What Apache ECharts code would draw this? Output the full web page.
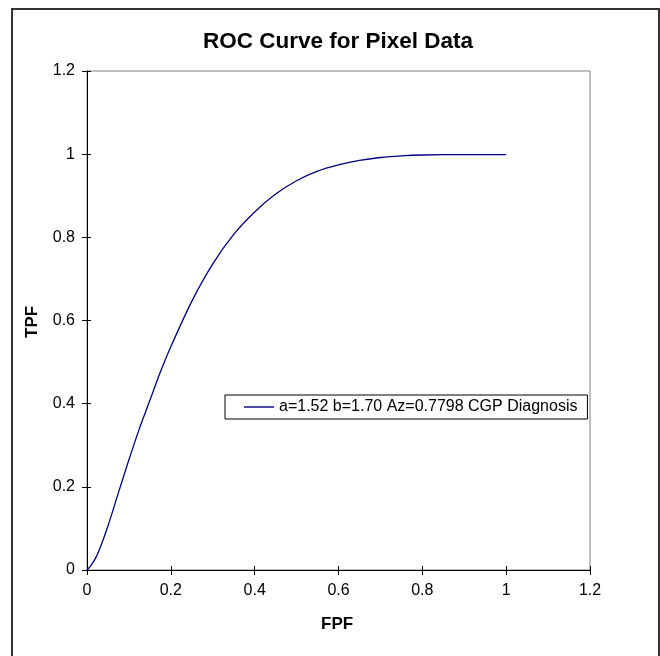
<!DOCTYPE html>
<html>
<head>
<meta charset="utf-8">
<script src="https://cdn.jsdelivr.net/npm/echarts@6/dist/echarts.min.js"></script>
<style>html,body{margin:0;padding:0;background:#fff}#c{width:660px;height:656px}</style>
</head>
<body>
<div id="c"></div>
<script>
const fpf = [0, 0.01, 0.02, 0.03, 0.05, 0.075, 0.1, 0.125, 0.15, 0.175, 0.2, 0.25, 0.3, 0.35, 0.4, 0.45, 0.5, 0.55, 0.6, 0.65, 0.7, 0.75, 0.8, 0.9, 1.0];
const tpf = [0, 0.012, 0.028, 0.05, 0.106, 0.186, 0.265, 0.34, 0.408, 0.476, 0.537, 0.646, 0.736, 0.807, 0.861, 0.904, 0.936, 0.959, 0.974, 0.985, 0.992, 0.996, 0.998, 0.999, 0.999];
const seriesName = 'a=1.52 b=1.70 Az=0.7798 CGP Diagnosis';
const titleText = 'ROC Curve for Pixel Data';
const xName = 'FPF';
const yName = 'TPF';

const font = 'Liberation Sans, Arial, sans-serif';
const chart = echarts.init(document.getElementById('c'));
const baseAxis = {
  type: 'value', min: 0, max: 1.2, interval: 0.2,
  splitLine: { show: false }
};
chart.setOption({
  animation: false,
  backgroundColor: '#fff',
  title: {
    text: titleText, left: 198, top: 25,
    textStyle: { fontFamily: font, fontSize: 22.5, fontWeight: 'bold', color: '#000' }
  },
  graphic: [{
    type: 'rect', shape: { x: 12, y: 9, width: 647, height: 700 },
    style: { fill: 'none', stroke: '#333', lineWidth: 2 }, silent: true
  }, {
    type: 'text', left: 321, top: 616,
    style: { text: xName, font: 'bold 17px ' + font, fill: '#000' }
  }, {
    type: 'text', x: 24, y: 338, rotation: Math.PI / 2,
    style: { text: yName, font: 'bold 17px ' + font, fill: '#000' }
  }],
  legend: {
    left: 225, top: 395,
    orient: 'horizontal',
    borderColor: '#000', borderWidth: 1,
    padding: [4, 10, 4, 19],
    itemWidth: 30, itemHeight: 1.4,
    icon: 'rect',
    itemStyle: { color: '#000080' },
    textStyle: { fontFamily: font, fontSize: 16, color: '#000' },
    data: [seriesName]
  },
  grid: {
    left: 87, right: 70, top: 71, bottom: 86,
    show: true, borderColor: '#808080', borderWidth: 1
  },
  xAxis: [
    Object.assign({}, baseAxis, {
      axisLine: { show: true, lineStyle: { color: '#000', width: 1 } },
      axisTick: { show: true, length: 5, lineStyle: { color: '#000' } },
      axisLabel: { fontFamily: font, fontSize: 16, color: '#000', margin: 13 }
    }),
    Object.assign({}, baseAxis, {
      position: 'bottom',
      axisLine: { show: false },
      axisTick: { show: true, inside: true, length: 4, lineStyle: { color: '#000' } },
      axisLabel: { show: false }
    })
  ],
  yAxis: [
    Object.assign({}, baseAxis, {
      axisLine: { show: true, lineStyle: { color: '#000', width: 1 } },
      axisTick: { show: true, length: 5, lineStyle: { color: '#000' } },
      axisLabel: { fontFamily: font, fontSize: 16, color: '#000', margin: 12 }
    }),
    Object.assign({}, baseAxis, {
      position: 'left',
      axisLine: { show: false },
      axisTick: { show: true, inside: true, length: 4, lineStyle: { color: '#000' } },
      axisLabel: { show: false }
    })
  ],
  series: [{
    name: seriesName,
    type: 'line',
    xAxisIndex: 0, yAxisIndex: 0,
    data: fpf.map((x, i) => [x, tpf[i]]),
    smooth: 0.3,
    symbol: 'none',
    lineStyle: { color: '#000080', width: 1.3 },
    itemStyle: { color: '#000080' }
  }]
});
</script>
</body>
</html>
